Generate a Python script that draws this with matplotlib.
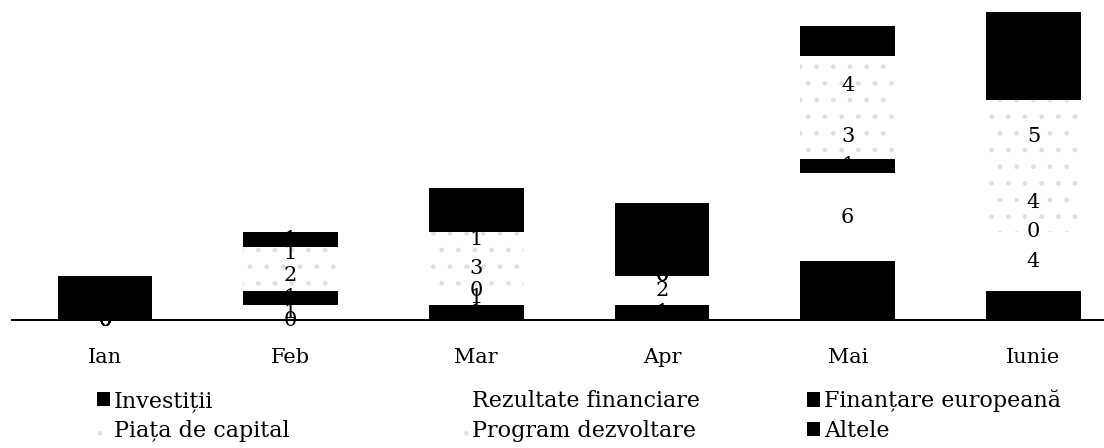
import numpy as np
import matplotlib.pyplot as plt
from matplotlib.patches import Patch

plt.rcParams['font.family'] = ['DejaVu Serif']
plt.rcParams['hatch.linewidth'] = 1.0

luni = ['Ian', 'Feb', 'Mar', 'Apr', 'Mai', 'Iunie']

# serii, in ordinea de stivuire (de jos in sus)
investitii = [0, 0, 1, 1, 4, 2]
rezultate = [0, 1, 1, 2, 6, 4]
finantare = [0, 1, 0, 0, 1, 0]
piata = [0, 2, 3, 0, 3, 4]
program = [0, 1, 1, 0, 4, 5]
altele = [3, 1, 3, 5, 2, 6]

serii = [
    ('Investiții', investitii, 'black', 'black', ''),
    ('Rezultate financiare', rezultate, 'white', 'white', ''),
    ('Finanțare europeană', finantare, 'black', 'black', ''),
    ('Piața de capital', piata, 'white', '#e0e0e0', '.'),
    ('Program dezvoltare', program, 'white', '#e0e0e0', '.'),
    ('Altele', altele, 'black', 'black', ''),
]

fig = plt.figure(figsize=(11.04, 4.48), dpi=100)
ax = fig.add_axes([12 / 1104, 128 / 448, 1092 / 1104, 320 / 448])

x = np.arange(len(luni))
baza = np.zeros(len(luni))
handles = {}
for nume, vals, culoare, muchie, hatch in serii:
    bars = ax.bar(x, vals, width=0.51, bottom=baza, color=culoare,
                  edgecolor=muchie, hatch=hatch, linewidth=0, zorder=2)
    ax.bar_label(bars, labels=[str(v) for v in vals], label_type='center',
                 fontsize=15, color='black', zorder=5)
    handles[nume] = Patch(facecolor=culoare, edgecolor=muchie, hatch=hatch, linewidth=0)
    baza += np.array(vals)

ax.set_xlim(-0.5, 5.38)
ax.set_ylim(0, 21.8)
ax.set_yticks([])
ax.set_xticks(x, luni, fontsize=15)
ax.tick_params(axis='x', length=0, pad=20)
for s in ['left', 'right', 'top']:
    ax.spines[s].set_visible(False)
ax.spines['bottom'].set_linewidth(1.4)

# legenda pe trei coloane, cate doua intrari
coloane = [
    (97, ['Investiții', 'Piața de capital']),
    (455, ['Rezultate financiare', 'Program dezvoltare']),
    (807, ['Finanțare europeană', 'Altele']),
]
for x0, nume_col in coloane:
    fig.legend([handles[n] for n in nume_col], nume_col, loc='center left',
               bbox_to_anchor=(x0 / 1104, 1 - 416 / 448), frameon=False,
               fontsize=16, handlelength=0.6, handleheight=0.6,
               handletextpad=0.15, labelspacing=0.35, borderpad=0,
               borderaxespad=0)

fig.savefig('out.png', dpi=100)
